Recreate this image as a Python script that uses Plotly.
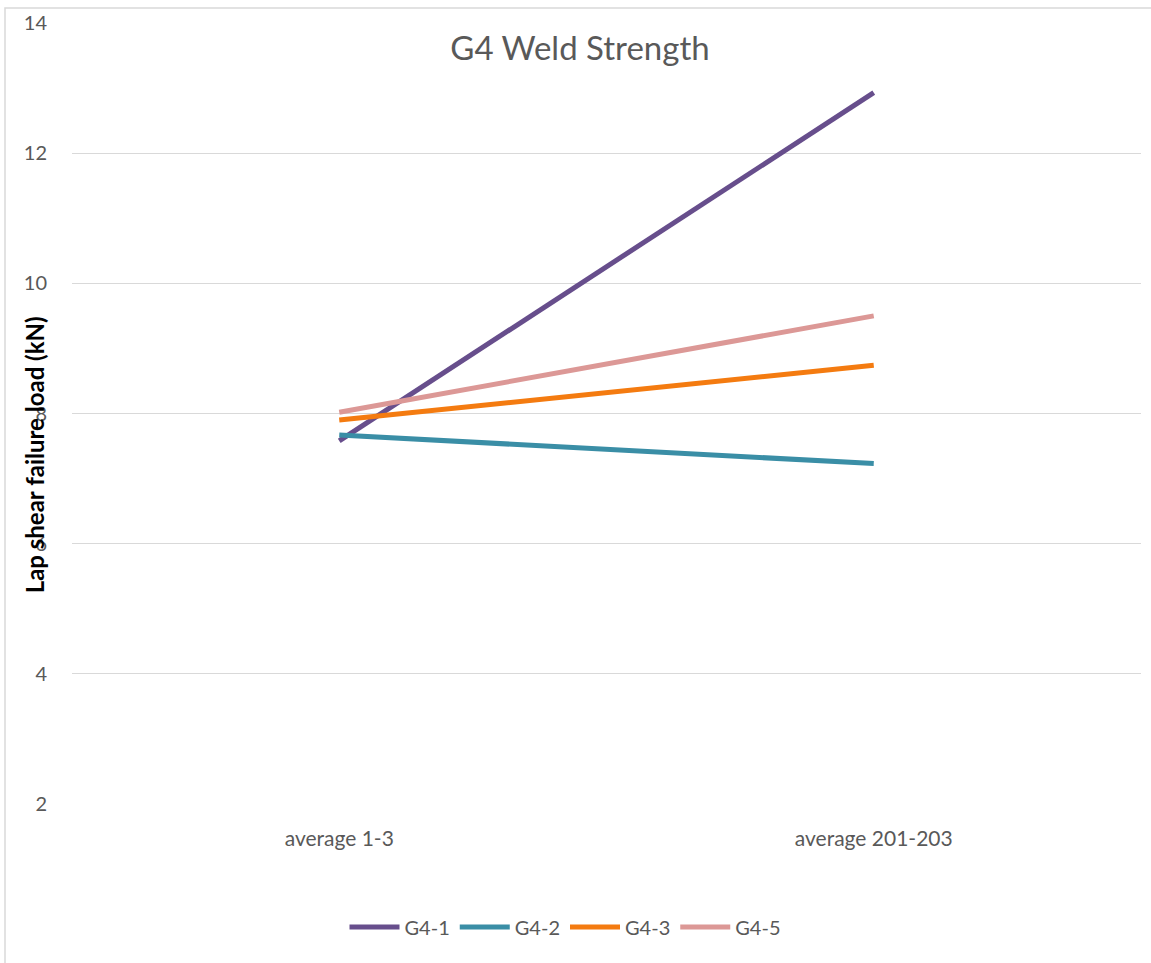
import plotly.graph_objects as go

categories = ["average 1-3", "average 201-203"]
series_names = ["G4-1", "G4-2", "G4-3", "G4-5"]
g4_1 = [7.58, 12.93]
g4_2 = [7.67, 7.23]
g4_3 = [7.90, 8.74]
g4_5 = [8.02, 9.50]
y_ticks = [2, 4, 6, 8, 10, 12, 14]

colors = ["#674E8C", "#3A8EA6", "#F47B10", "#DC9896"]
values = [g4_1, g4_2, g4_3, g4_5]

W, H = 1151, 963
L, R, T, B = 72, 10, 20, 159
font = "Lato, 'Open Sans', sans-serif"

fig = go.Figure()
for name, vals, col in zip(series_names, values, colors):
    fig.add_trace(go.Scatter(x=categories, y=vals, name=name, mode="lines",
                             line=dict(color=col, width=5)))

pw = W - L - R
ph = H - T - B

fig.update_layout(
    width=W, height=H,
    margin=dict(l=L, r=R, t=T, b=B, pad=0),
    paper_bgcolor="white", plot_bgcolor="white",
    font=dict(family=font, color="#595959", size=20),
    title=dict(text="G4 Weld Strength", x=580 / W, y=1 - 48 / H,
               xref="container", yref="container",
               xanchor="center", yanchor="middle",
               font=dict(size=33, color="#595959", family=font)),
    showlegend=True,
    legend=dict(orientation="h", xref="container", yref="container",
                x=565 / W, y=1 - 927 / H, xanchor="center", yanchor="middle",
                font=dict(size=20, color="#595959"), itemwidth=50,
                tracegroupgap=0),
    xaxis=dict(type="category", range=[-0.5, 1.5], showgrid=False,
               showline=False, zeroline=False, ticks="",
               tickfont=dict(size=21, color="#595959"), ticklabelstandoff=20),
    yaxis=dict(range=[2, 14], tickvals=y_ticks, showgrid=True,
               gridcolor="#D9D9D9", gridwidth=1, zeroline=False,
               showline=False, ticks="", tickfont=dict(size=20, color="#595959"),
               ticklabelstandoff=24),
)

fig.add_annotation(text="<b>Lap shear failure load (kN)</b>", textangle=-90,
                   xref="paper", yref="paper",
                   x=(34 - L) / pw, y=(H - B - 454) / ph,
                   xanchor="center", yanchor="middle", showarrow=False,
                   font=dict(size=24, color="black", family=font))

# outer chart-area frame
fig.add_shape(type="rect", xref="paper", yref="paper",
              x0=(5 - L) / pw, x1=(W + 20 - L) / pw,
              y0=(H - B - (H + 20)) / ph, y1=(H - B - 5) / ph,
              line=dict(color="#D9D9D9", width=1.5), fillcolor="rgba(0,0,0,0)",
              layer="below")

fig.write_html("out.html", config={"displayModeBar": False},
               post_script="document.body.style.margin='0';document.body.style.overflow='hidden';")
